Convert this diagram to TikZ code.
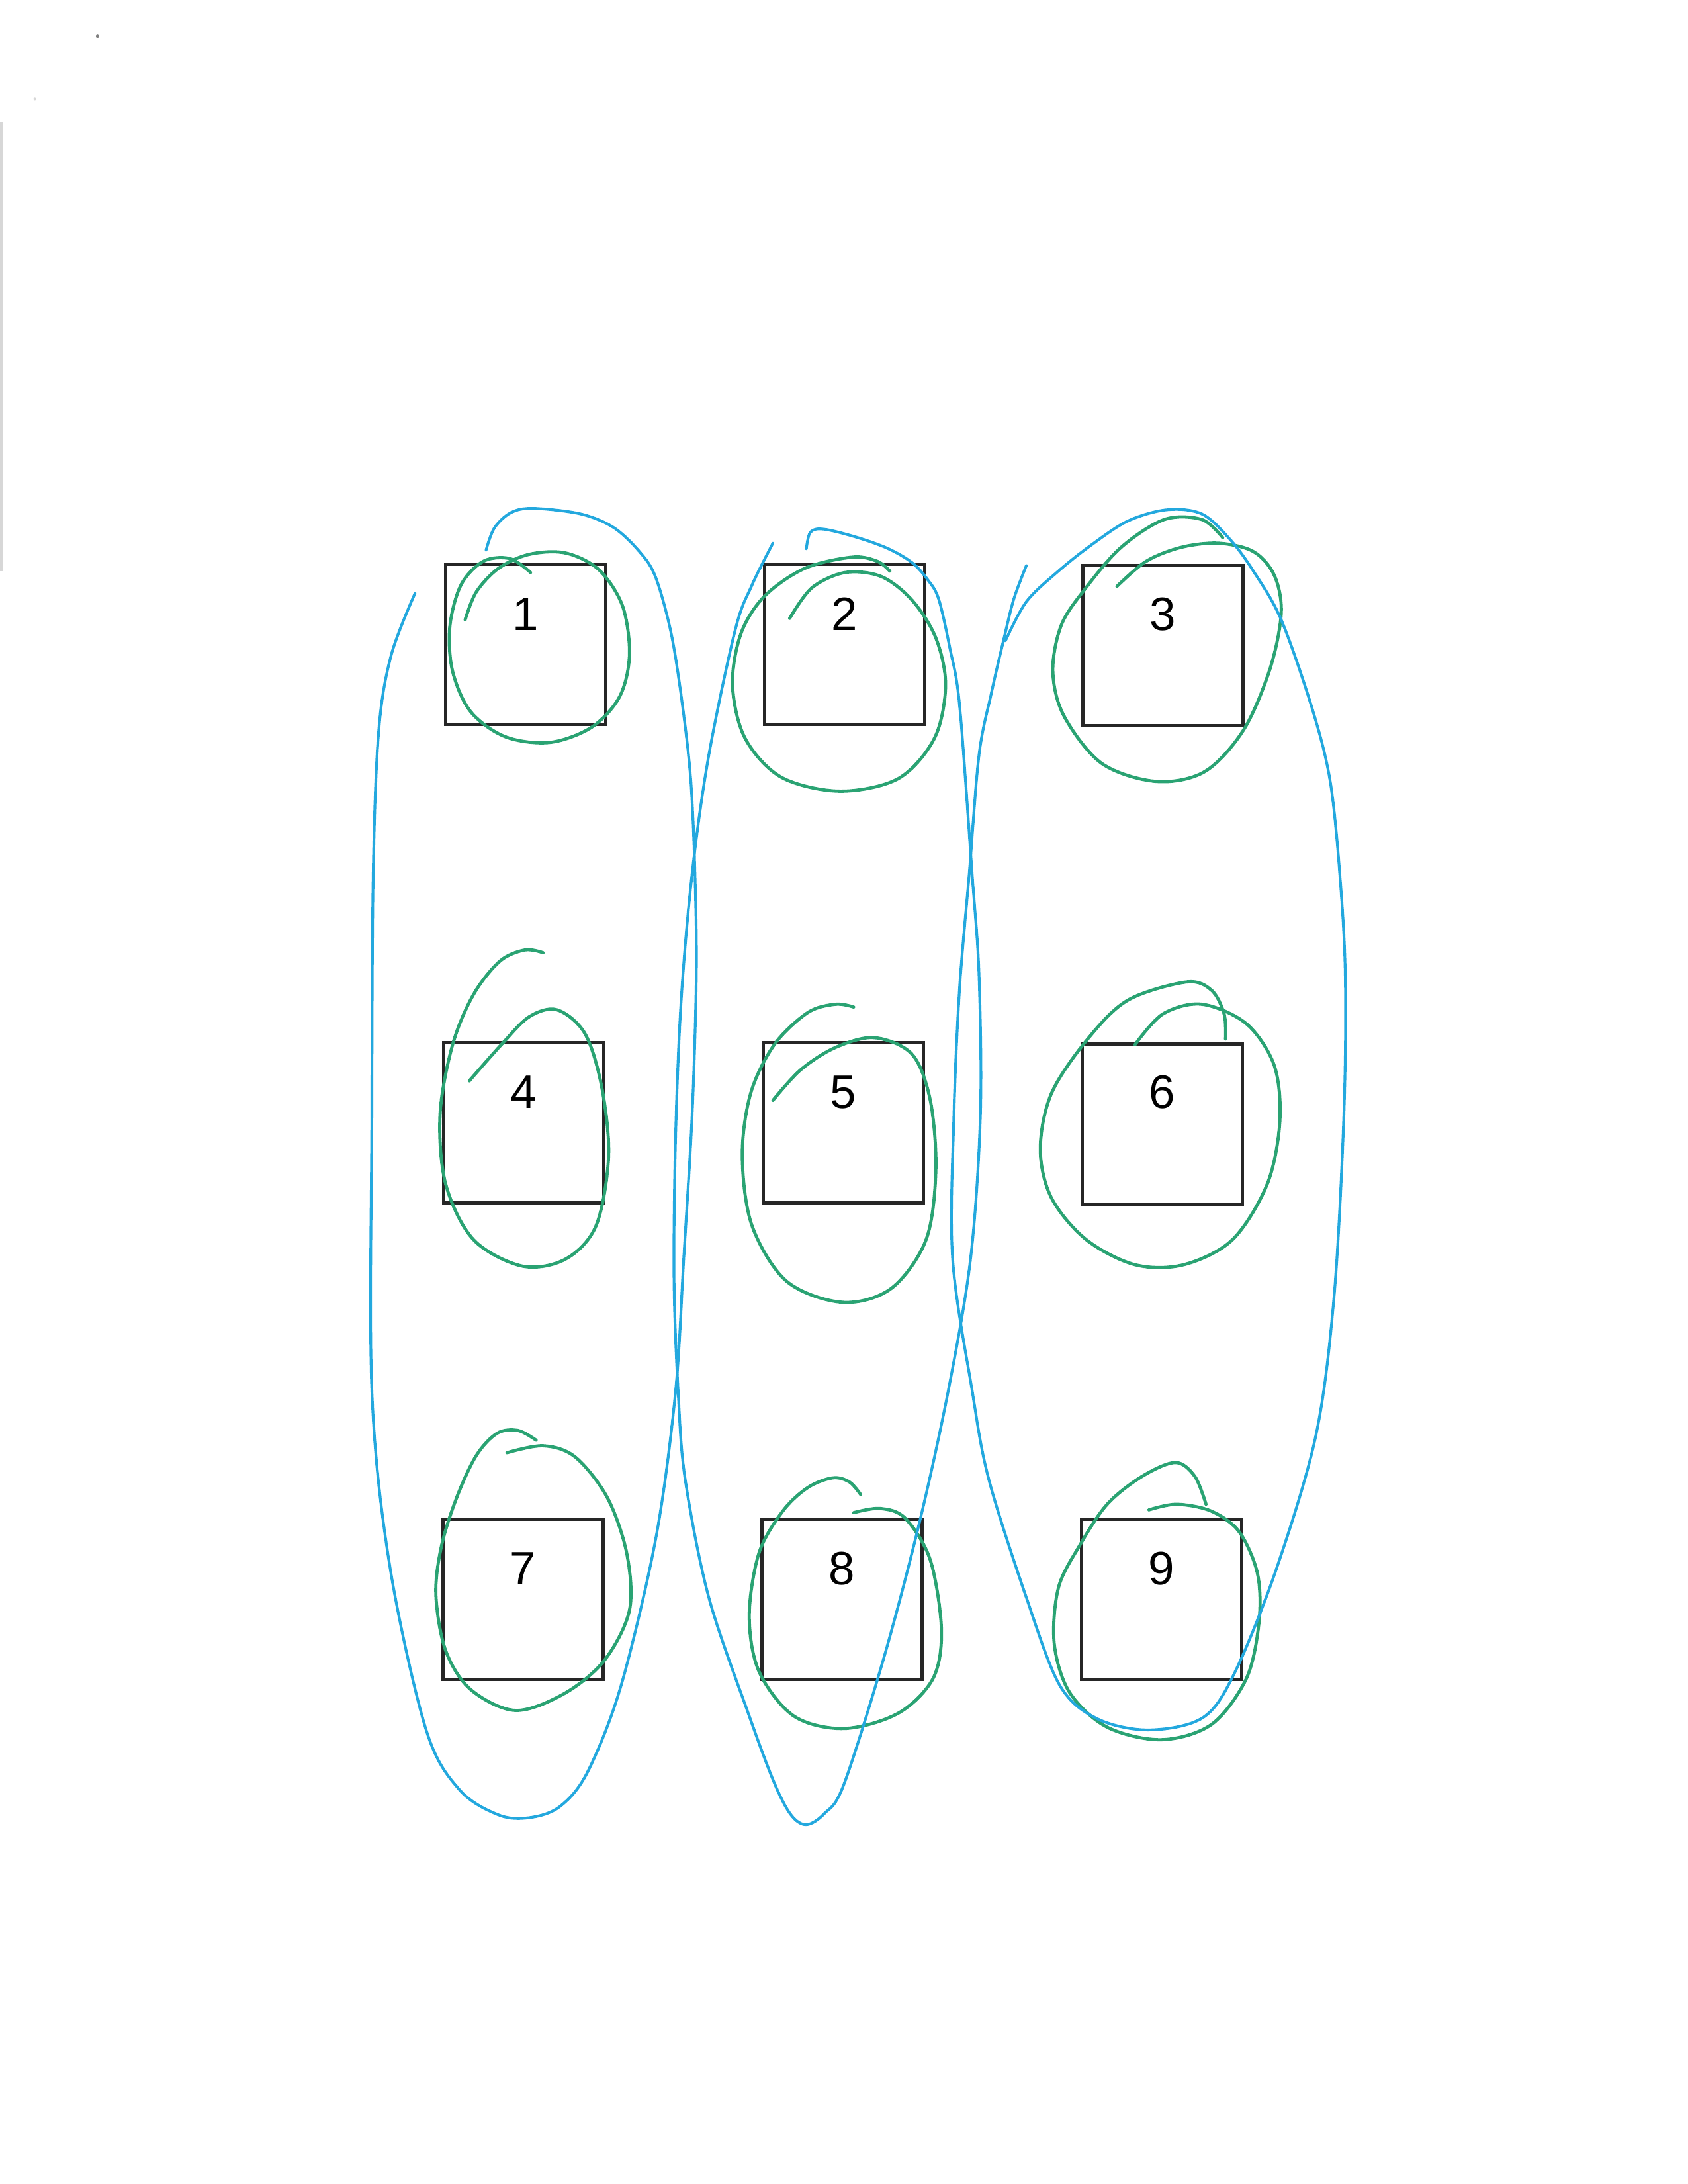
\documentclass[tikz,border=0pt]{standalone}
\usepackage{fontspec}
\setmainfont{Liberation Sans}
\definecolor{loopblue}{RGB}{35,168,222}
\definecolor{loopgreen}{RGB}{42,163,115}
\definecolor{scangray}{RGB}{215,215,215}
\begin{document}
\begin{tikzpicture}[x=0.50495pt,y=-0.50495pt,
  box/.style={draw=black!85, line width=1.1pt, minimum size=58.07pt, inner sep=0pt},
  num/.style={font=\fontsize{17}{20}\selectfont, inner sep=0pt},
  bluel/.style={loopblue, line width=1pt, line cap=round, line join=round},
  greenl/.style={loopgreen, line width=1.15pt, line cap=round, line join=round}]
\useasboundingbox (0,0) rectangle (1212,1568);
% scan artefacts
\fill[scangray] (0,88) rectangle (2.5,410);
\fill[gray] (70,26) circle (1.2);
\fill[scangray] (25,71) circle (1);
% squares
\node[box] (s1) at (377.5,462.5) {};
\node[box] (s2) at (606.5,462.5) {};
\node[box] (s3) at (835,463.5) {};
\node[box] (s4) at (376,806) {};
\node[box] (s5) at (605.5,806) {};
\node[box] (s6) at (834.5,807) {};
\node[box] (s7) at (375.5,1148.5) {};
\node[box] (s8) at (604.5,1148.5) {};
\node[box] (s9) at (834,1148.5) {};
% labels
\node[num] (t1) at (377.5,441) {1};
\node[num] (t2) at (606.5,441) {2};
\node[num] (t3) at (835,441) {3};
\node[num] (t4) at (376,784) {4};
\node[num] (t5) at (605.5,784) {5};
\node[num] (t6) at (834.5,784) {6};
\node[num] (t7) at (375.5,1126) {7};
\node[num] (t8) at (604.5,1126) {8};
\node[num] (t9) at (834,1126) {9};
% green loops
\draw[greenl] plot[smooth, tension=0.55] coordinates {(381,411) (366,401) (347,403) (331,420) (323,450) (325,482) (338,511) (363,529) (395,533) (425,522) (445,500) (452,470) (447,435) (430,409) (406,397) (380,398) (358,408) (342,425) (334,445)};
\draw[greenl] plot[smooth, tension=0.55] coordinates {(567,444) (583,422) (607,411) (633,414) (655,431) (672,458) (679,492) (671,530) (645,559) (603,568) (561,558) (535,530) (526,492) (532,455) (549,428) (578,408) (612,400) (630,403) (639,410)};
\draw[greenl] plot[smooth, tension=0.55] coordinates {(802,421) (823,403) (848,393) (875,390) (900,396) (915,413) (920,440) (912,480) (893,524) (865,554) (830,561) (791,548) (764,514) (756,482) (762,449) (779,423) (805,393) (836,373) (863,373) (878,386)};
\draw[greenl] plot[smooth, tension=0.55] coordinates {(390,684) (377,682) (359,690) (340,714) (325,750) (316,800) (320,850) (340,890) (375,909) (406,904) (428,880) (437,830) (432,780) (420,742) (400,725) (380,730) (360,750) (337,776)};
\draw[greenl] plot[smooth, tension=0.55] coordinates {(613,723) (600,721) (580,727) (556,750) (539,785) (533,830) (540,880) (565,920) (605,935) (640,925) (665,890) (672,840) (668,790) (655,757) (628,745) (600,752) (575,768) (555,790)};
\draw[greenl] plot[smooth, tension=0.55] coordinates {(815,750) (835,728) (863,721) (895,735) (915,765) (919,805) (910,850) (885,890) (850,908) (815,908) (780,890) (755,860) (747,825) (755,785) (781,746) (810,718) (852,705) (870,711) (879,728) (880,746)};
\draw[greenl] plot[smooth, tension=0.55] coordinates {(385,1034) (372,1027) (357,1029) (342,1045) (328,1075) (317,1110) (313,1145) (320,1185) (338,1213) (370,1228) (405,1216) (434,1192) (452,1156) (450,1115) (436,1075) (413,1046) (390,1038) (364,1043)};
\draw[greenl] plot[smooth, tension=0.55] coordinates {(618,1073) (610,1064) (598,1061) (580,1068) (562,1085) (545,1115) (538,1160) (545,1200) (570,1232) (606,1241) (645,1230) (670,1205) (676,1170) (668,1120) (650,1090) (632,1083) (613,1086)};
\draw[greenl] plot[smooth, tension=0.55] coordinates {(825,1084) (845,1080) (870,1085) (890,1100) (903,1130) (904,1165) (895,1205) (870,1238) (834,1249) (795,1240) (768,1215) (757,1180) (760,1140) (775,1110) (795,1080) (820,1060) (844,1050) (858,1060) (866,1080)};
% blue loops
\draw[bluel] plot[smooth, tension=0.55] coordinates {(298,426) (281,470) (272,524) (268,627) (267,800) (267,998) (280,1125) (306,1242) (330,1285) (358,1303) (380,1305) (402,1297) (422,1272) (446,1210) (471,1104) (485,1000) (491,903) (497,800) (500,700) (499,627) (496,560) (490,506) (482,455) (471,415) (460,397) (441,379) (417,369) (383,365) (367,368) (355,379) (349,395)};
\draw[bluel] plot[smooth, tension=0.55] coordinates {(555,390) (540,420) (528,452) (509,542) (497,627) (489,720) (485,820) (484,920) (487,1000) (492,1062) (509,1147) (538,1232) (556,1280) (568,1303) (579,1310) (592,1302) (606,1281) (635,1189) (660,1094) (681,998) (697,903) (704,800) (703,700) (698,627) (689,506) (682,465) (674,430) (666,416) (655,404) (638,394) (616,386) (592,380) (582,382) (579,394)};
\draw[bluel] plot[smooth, tension=0.55] coordinates {(737,406) (728,430) (721,458) (712,497) (703,542) (696,627) (689,710) (685,800) (684,903) (698,998) (710,1062) (737,1147) (761,1210) (788,1234) (825,1242) (864,1233) (887,1200) (917,1125) (945,1030) (958,930) (965,800) (966,700) (962,627) (955,560) (942,508) (920,445) (900,410) (883,387) (863,369) (838,366) (810,374) (784,391) (760,410) (737,432) (722,460)};
\end{tikzpicture}
\end{document}
